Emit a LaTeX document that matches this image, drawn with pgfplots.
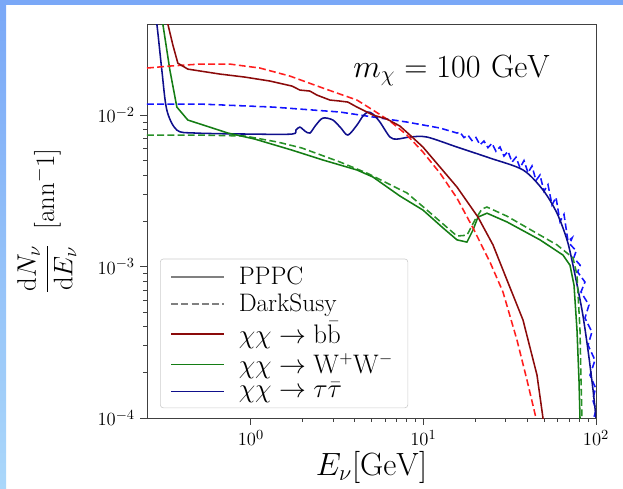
\documentclass[border=0pt]{standalone}
\usepackage{pgfplots}
\pgfplotsset{compat=1.18}
\definecolor{cbbP}{RGB}{139,10,10}
\definecolor{cWWP}{RGB}{20,125,20}
\definecolor{cttP}{RGB}{15,15,140}
\definecolor{cbbD}{RGB}{255,30,30}
\definecolor{cWWD}{RGB}{40,145,40}
\definecolor{cttD}{RGB}{20,20,255}
\definecolor{slideA}{RGB}{122,168,247}
\definecolor{slideB}{RGB}{170,215,250}
\definecolor{legframe}{RGB}{204,204,204}
\begin{document}
\begin{tikzpicture}
\path[use as bounding box] (-94.8pt,-45.2pt) rectangle (307pt,269.6pt);
\fill[slideA] (-94.8pt,266.4pt) rectangle (307pt,269.6pt);
\shade[top color=slideA, bottom color=slideB] (-94.8pt,-45.2pt) rectangle (-90.9pt,266.4pt);
\begin{axis}[
  scale only axis, width=289.6pt, height=254.1pt,
  xmode=log, ymode=log,
  xmin=0.25, xmax=100, ymin=1e-4, ymax=0.0399,
  xtick={1,10,100}, ytick={1e-4,1e-3,1e-2},
  tick align=outside, xtick pos=left, ytick pos=left,
  major tick length=4.3pt, minor tick length=2.5pt,
  axis line style={draw=black!75, line width=0.6pt},
  every tick/.style={draw=black!75, line width=0.5pt},
  tick label style={font=\fontsize{13}{15}\selectfont},
  xlabel={$E_\nu[\mathrm{GeV}]$},
  xlabel style={font=\huge, yshift=3pt},
  ylabel={$\displaystyle\frac{\mathrm{d}N_\nu}{\mathrm{d}E_\nu}$\hspace{0.55em}$[\mathrm{ann}^-1]$},
  every axis y label/.style={at={(axis description cs:-0.223,0.5)}, rotate=90, anchor=center, font=\LARGE},
  legend style={at={(0.029,0.025)}, anchor=south west, draw=legframe,
    rounded corners=2pt, fill=white, fill opacity=0.8, text opacity=1,
    font=\fontsize{16.3}{19.5}\selectfont, row sep=2.8pt, inner xsep=6.5pt, inner ysep=4pt,
    nodes={inner xsep=3pt, inner ysep=1pt},
    /tikz/every odd column/.append style={column sep=6pt}},
  legend cell align=left,
  legend image code/.code={\draw[line width=1.1pt] (0pt,0pt) -- (34pt,0pt);},
  ds/.style={dash pattern=on 4.4pt off 2.2pt},
  every axis plot/.append style={line width=1pt},
]
\addlegendimage{gray}
\addlegendentry{PPPC}
\addlegendimage{gray, ds}
\addlegendentry{DarkSusy}
\addlegendimage{cbbP}
\addlegendentry{$\chi\chi\rightarrow\mathrm{b}\bar{\mathrm{b}}$}
\addlegendimage{cWWP}
\addlegendentry{$\chi\chi\rightarrow\mathrm{W}^{+}\mathrm{W}^{-}$}
\addlegendimage{cttP}
\addlegendentry{$\chi\chi\rightarrow\tau\bar{\tau}$}

% tau DarkSusy
\addplot[cttD, ds, forget plot] coordinates {
(0.25,0.01182) (0.5062,0.01182) (1.341,0.01129) (3.281,0.01047) (8.024,0.00899) (12.46,0.00821) (15.64,0.00761)
(16.28,0.00771) (17.17,0.0071) (18.11,0.00737) (19.10,0.00679) (20.15,0.00711) (21.26,0.00636) (22.42,0.00674)
(23.65,0.00609) (24.95,0.00651) (26.32,0.00576) (27.77,0.00616) (29.29,0.00536) (30.9,0.00577) (32.6,0.00489)
(34.38,0.00527) (36.27,0.00448) (38.26,0.00501) (40.35,0.00416) (42.56,0.00461) (44.89,0.0037) (47.36,0.00402)
(49.95,0.00314) (52.69,0.00347) (55.58,0.00255) (58.63,0.00286) (61.84,0.00198) (65.24,0.00221) (68.81,0.00147)
(72.8,0.00155) (70.4,0.00141) (76.8,0.00127) (74.3,0.00114) (81.0,0.00102) (78.3,0.00092) (86.3,0.00079)
(81.8,0.000679) (91.0,0.000557) (86.3,0.000457) (94.7,0.00037) (89.9,0.000303) (98.6,0.000241) (92.3,0.000192)
(99.4,0.000158) (95.7,0.000132) (100,0.000113) (97,0.0001) (99,0.00009)
};
% tau PPPC
\addplot[cttP, smooth, tension=0.5, forget plot] coordinates {
(0.274,0.0493) (0.2851,0.0399) (0.3048,0.01982) (0.3258,0.01079) (0.3724,0.00796) (0.4735,0.00761) (0.9867,0.00749)
(1.729,0.00749) (1.824,0.00796) (1.923,0.00833) (2.056,0.00784) (2.198,0.00761) (2.381,0.00859) (2.615,0.00955)
(2.988,0.00927) (3.325,0.00821) (3.65,0.00738) (4.117,0.00859) (4.46,0.00985) (4.767,0.01047) (5.096,0.01015)
(5.595,0.00899) (6.395,0.00716) (7.022,0.00694) (8.351,0.00716) (10.48,0.00716) (15.64,0.00615) (24.3,0.0052)
(37.75,0.00434) (49.29,0.0032) (59.41,0.00225) (67.91,0.0015) (73.56,0.00102) (82.95,0.000516) (89.85,0.000281)
(96.1,0.000153) (100,0.0001)
};
% WW DarkSusy
\addplot[cWWD, ds, forget plot] coordinates {
(0.25,0.00738) (0.5062,0.00738) (0.923,0.00727) (1.434,0.00663) (1.975,0.00606) (3.281,0.0049) (4.704,0.00414)
(8.024,0.00306) (10.48,0.00236) (15.64,0.00159) (17.87,0.00161) (19.89,0.00203) (21.84,0.0024) (23.34,0.00247)
(30.48,0.00215) (59.41,0.00139) (73.56,0.00114) (77.59,0.000879) (80.76,0.000381) (81.85,0.000178) (82.95,0.0001)
(83.0,0.00009)
};
% WW PPPC
\addplot[cWWP, forget plot] coordinates {
(0.3008,0.0493) (0.3089,0.0399) (0.3393,0.01982) (0.3724,0.01129) (0.4312,0.00927) (0.7357,0.00761) (1.0548,0.00694)
(1.729,0.00587) (2.615,0.00505) (4.117,0.00434) (5.096,0.0039) (7.308,0.00292) (9.933,0.00236) (12.97,0.0018)
(15.64,0.0015) (17.87,0.00145) (19.36,0.00174) (20.7,0.00212) (23.34,0.00225) (30.48,0.00197) (47.36,0.0015)
(64.38,0.00119) (70.68,0.00102) (74.55,0.000755) (77.59,0.000381) (79.69,0.000178) (80.76,0.0001) (80.8,0.00009)
};
% bb DarkSusy
\addplot[cbbD, ds, forget plot] coordinates {
(0.25,0.02043) (0.3393,0.02106) (0.5062,0.0217) (0.7556,0.0217) (1.128,0.02043) (1.683,0.01809) (2.615,0.01507)
(4.117,0.01256) (5.096,0.01079) (6.395,0.00913) (8.024,0.00738) (9.933,0.0057) (12.46,0.00414) (15.64,0.00283)
(19.36,0.0018) (24.3,0.00107) (28.9,0.000679) (34.84,0.000327) (39.81,0.000178) (44.89,0.0001) (46.1,0.00009)
};
% bb PPPC
\addplot[cbbP, forget plot] coordinates {
(0.3215,0.0493) (0.3302,0.0399) (0.3531,0.0290) (0.3774,0.0220) (0.4312,0.0201) (0.6612,0.01865) (0.923,0.01781)
(1.289,0.01677) (1.729,0.01554) (1.923,0.01462) (2.198,0.0144) (2.413,0.01355) (2.871,0.01256) (3.281,0.01237)
(3.65,0.01218) (4.117,0.01129) (5.096,0.0100) (6.143,0.00941) (7.308,0.00846) (8.351,0.00738) (9.933,0.00615)
(12.46,0.00454) (15.64,0.00335) (20.70,0.00212) (25.29,0.00139) (30.48,0.000815) (37.75,0.000444) (45.5,0.000192)
(49.29,0.0001) (50.6,0.00009)
};
\node[anchor=base, font=\fontsize{22.4}{26}\selectfont] at (rel axis cs:0.679,0.8655) {$m_\chi = 100\ \mathrm{GeV}$};
\end{axis}
\end{tikzpicture}
\end{document}
